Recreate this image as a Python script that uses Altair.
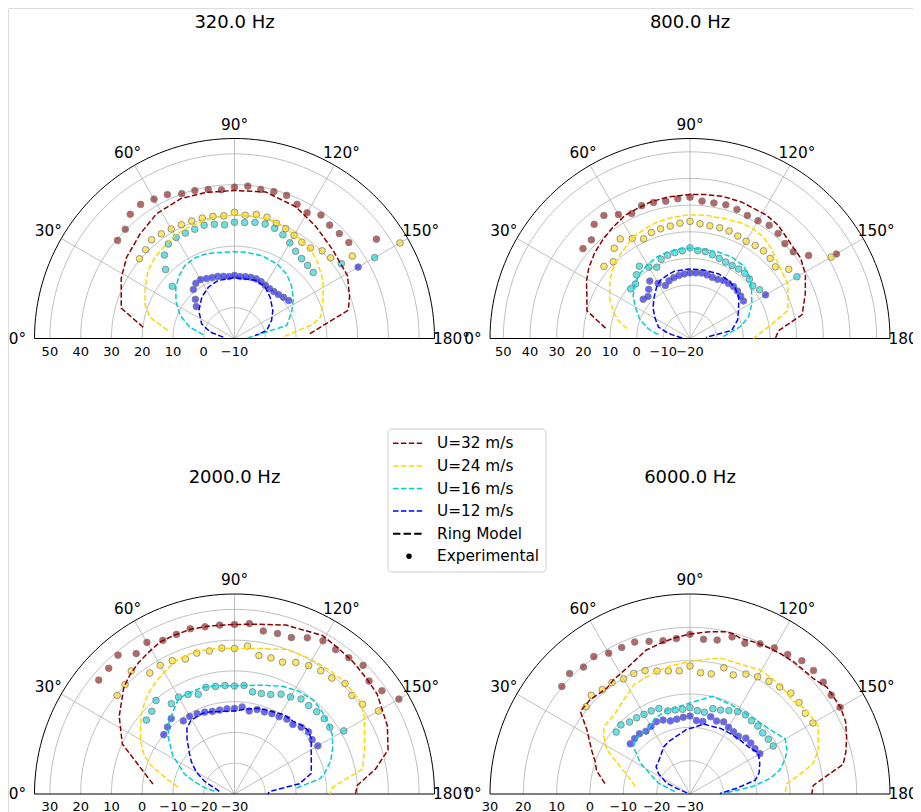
import altair as alt
import pandas as pd

# ---------------- panel layout (figure pixel space) ----------------
R_PX = 200.0
PANEL_TITLES = ["320.0 Hz", "800.0 Hz", "2000.0 Hz", "6000.0 Hz"]
PANEL_CX = [234.5, 690.0, 234.5, 690.0]
PANEL_CY = [338.5, 338.5, 794.0, 794.0]
PANEL_RMIN = [-10, -20, -30, -30]
PANEL_RMAX = [55, 55, 35, 30]
PANEL_RTICKS = [
    [-10, 0, 10, 20, 30, 40, 50],
    [-20, -10, 0, 10, 20, 30, 40, 50],
    [-30, -20, -10, 0, 10, 20, 30],
    [-30, -20, -10, 0, 10, 20, 30],
]
THETA_TICKS = [0, 30, 60, 90, 120, 150, 180]

SERIES = ["U=32 m/s", "U=24 m/s", "U=16 m/s", "U=12 m/s"]
COLORS = ["#8b0000", "#ffd700", "#00ced1", "#0000ff"]

# ---------------- experimental data (dB) ----------------
EXP_ANGLES = [40, 45, 50, 55, 60, 65, 70, 75, 80, 85, 90, 95, 100, 105, 110,
              115, 120, 125, 130, 135, 140, 145, 150]

EXP_320_U32 = [39.6, 40.2, 42.7, 43.2, 42.3, 41.6, 40.1, 39.8, 39.2, 38.5, 39.2, 39.7, 39.2, 39.4, 39.5, 38.1, 37.2, 39.0, 38.1, 38.2, 38.5, 46.3, None]
EXP_320_U24 = [30.3, 30.8, 31.9, 31.5, 31.1, 30.8, 30.6, 30.5, 30.3, 30.0, 31.0, 30.2, 30.9, 30.8, 29.8, 29.4, 28.7, 28.2, 28.4, 30.3, 30.8, 36.7, 52.1]
EXP_320_U16 = [16.4, 21.7, 25.4, 27.5, 27.9, 27.8, 27.8, 28.1, 27.7, 27.1, 27.8, 27.8, 28.3, 28.5, 28.1, 27.2, 25.9, 24.6, 23.9, 23.6, 23.4, 32.4, 42.6]
EXP_320_U12 = [6.2, 8.0, 10.8, 11.9, 12.1, 11.5, 11.1, 10.9, 10.5, 10.2, 10.5, 10.2, 10.4, 10.6, 10.6, 10.4, 10.0, 9.8, 9.9, 10.2, 10.8, 11.5, 36.4]

EXP_800_U32 = [32.4, 32.3, 35.9, 36.3, 33.7, 31.7, 33.0, 32.8, 32.3, 32.6, 33.0, 31.7, 31.6, 31.9, 31.5, 30.9, 31.0, 31.8, 31.4, 30.3, 30.6, 34.3, 43.4]
EXP_800_U24 = [22.1, 20.7, 24.2, 25.6, 23.3, 21.2, 22.3, 22.6, 22.8, 23.4, 23.9, 23.2, 22.9, 23.0, 22.9, 22.4, 22.1, 22.6, 22.9, 22.5, 21.8, 25.2, 41.1]
EXP_800_U16 = [9.0, 8.9, 11.2, 13.1, 10.9, 9.5, 11.6, 12.3, 12.7, 13.0, 14.0, 13.1, 13.1, 12.5, 12.0, 11.6, 11.6, 11.8, 11.9, 11.5, 10.7, 11.9, 26.3]
EXP_800_U12 = [2.9, 2.3, 4.1, 6.3, 3.9, 1.9, 3.0, 3.6, 4.0, 4.3, 4.6, 4.7, 4.9, 4.7, 4.4, 4.5, 5.1, 5.2, 5.4, 5.2, 4.8, 4.5, 12.7]

EXP_2000_U32 = [27.6, 27.8, 28.9, 25.7, 26.9, 25.1, 25.2, 25.6, 25.2, 25.1, 25.1, 25.6, 23.8, 24.0, 24.1, 26.0, 27.5, 27.3, 27.8, 29.1, 27.1, 28.5, 31.7]
EXP_2000_U24 = [19.8, 20.3, 22.2, 18.0, 18.3, 17.8, 16.7, 17.4, 17.2, 17.6, 17.3, 18.3, 15.7, 15.8, 15.6, 17.2, 18.2, 18.9, 19.2, 20.8, 19.8, 20.8, 24.0]
EXP_2000_U16 = [7.4, 8.0, 9.7, 5.8, 6.4, 5.7, 4.5, 5.9, 5.5, 5.4, 5.1, 5.4, 3.7, 3.8, 4.4, 5.8, 6.4, 7.7, 7.5, 7.8, 8.1, 7.8, 11.0]
EXP_2000_U12 = [0.0, 0.8, 2.0, -1.0, -0.9, -1.2, -1.7, -2.2, -2.3, -2.2, -2.2, -1.6, -2.6, -1.6, -1.6, -1.2, -1.0, -0.3, -0.5, 0.7, 1.4, 0.8, 1.3]

EXP_6000_U32 = [20.2, 21.1, 19.7, 20.3, 18.8, 18.5, 18.5, 17.4, 16.7, 16.8, 17.9, 16.6, 16.9, 18.8, 18.1, 19.7, 20.6, 21.1, 22.2, 22.4, 22.2, 21.7, 22.0]
EXP_6000_U24 = [10.7, 11.9, 10.9, 10.8, 9.9, 9.9, 9.4, 8.2, 7.5, 7.1, 8.4, 6.5, 6.6, 9.2, 8.0, 9.7, 10.6, 11.3, 11.9, 12.8, 12.7, 12.2, 12.6]
EXP_6000_U16 = [-1.1, -0.7, -1.8, -2.1, -2.4, -2.5, -2.7, -4.2, -4.4, -4.5, -4.1, -4.9, -5.1, -3.5, -3.2, -2.4, -1.5, -1.0, -1.3, -1.2, -1.5, -1.3, -1.2]
EXP_6000_U12 = [-6.6, -6.5, -6.4, -7.0, -6.6, -6.1, -6.4, -7.3, -7.2, -6.9, -6.6, -7.9, -7.9, -6.0, -6.7, -6.1, -6.9, -7.2, -7.4, -6.3, -6.2, -6.2, -5.8]

# ---------------- ring model (angle deg, dB) ----------------
MOD_320_U32_T = [7, 15, 28, 37, 48, 58, 69, 79, 90, 102, 115, 126, 138, 151, 160, 166, 177]
MOD_320_U32_R = [19.9, 28.1, 31.7, 33.9, 35.8, 37.8, 38.7, 38.4, 38.1, 38.7, 37.2, 35.0, 33.0, 32.0, 29.8, 28.1, 14.0]
MOD_320_U24_T = [7, 14, 21, 30, 38, 46, 53, 60, 68, 76, 82, 90, 97, 108, 117, 123, 131, 138, 147, 155, 166, 170, 178]
MOD_320_U24_R = [11.9, 18.3, 21.2, 23.5, 25.7, 27.0, 27.7, 28.7, 29.2, 29.5, 29.8, 30.2, 30.3, 30.4, 29.2, 28.8, 28.0, 26.5, 24.3, 21.8, 18.9, 15.5, 5.9]
MOD_320_U16_T = [7, 14, 23, 32, 41, 49, 56, 64, 72, 82, 90, 98, 109, 120, 129, 137, 146, 155, 166, 179]
MOD_320_U16_R = [0.2, 4.9, 9.2, 12.4, 15.3, 17.3, 18.7, 19.2, 19.0, 18.3, 18.2, 18.3, 18.3, 17.9, 16.9, 15.3, 13.1, 10.5, 7.5, -6.0]
MOD_320_U12_T = [7, 15, 24, 38, 52, 63, 74, 90, 111, 121, 131, 144, 154, 166, 172]
MOD_320_U12_R = [-6.3, -1.8, 1.7, 4.7, 7.2, 8.7, 9.6, 9.8, 10.2, 9.4, 7.7, 5.4, 3.4, 0.8, -3.3]

MOD_800_U32_T = [7, 15, 22, 29, 35, 42, 49, 55, 62, 68, 74, 81, 90, 96, 103, 111, 122, 128, 138, 144, 151, 159, 168, 175, 180]
MOD_800_U32_R = [11.9, 20.0, 21.7, 24.4, 26.3, 28.1, 29.5, 30.7, 32.2, 32.6, 33.3, 33.7, 34.0, 34.3, 34.7, 34.7, 34.4, 33.8, 31.7, 31.3, 29.5, 26.3, 23.0, 13.3, 12.0]
MOD_800_U24_T = [9, 14, 19, 27, 36, 43, 50, 56, 62, 68, 74, 82, 90, 98, 106, 114, 120, 126, 132, 138, 151, 164, 170, 180]
MOD_800_U24_R = [4.0, 7.7, 10.4, 13.8, 17.1, 19.3, 20.9, 22.2, 23.8, 24.5, 25.4, 25.9, 26.4, 26.6, 26.8, 27.4, 27.5, 26.9, 25.5, 23.7, 22.0, 18.2, 11.1, 3.8]
MOD_800_U16_T = [7, 13, 21, 30, 37, 45, 52, 59, 68, 75, 84, 90, 100, 108, 117, 126, 134, 142, 151, 160, 167, 178]
MOD_800_U16_R = [-8.0, -4.0, 0.2, 3.7, 6.7, 9.1, 10.7, 11.8, 13.0, 13.5, 13.8, 13.9, 13.8, 14.1, 14.3, 13.9, 12.2, 9.3, 6.5, 3.3, -0.8, -8.1]
MOD_800_U12_T = [4, 12, 15, 20, 31, 40, 49, 57, 63, 70, 77, 90, 101, 114, 123, 131, 140, 150, 159, 169, 176]
MOD_800_U12_R = [-17.0, -13.0, -10.9, -7.4, -4.6, -1.9, 0.5, 3.0, 4.5, 5.2, 5.9, 6.1, 6.2, 6.5, 6.1, 5.6, 3.9, 1.0, -0.9, -4.1, -14.0]

MOD_2000_U32_T = [7, 24, 34, 44, 49, 54, 59, 64, 69, 75, 82, 90, 97, 107, 119, 125, 132, 139, 145, 156, 164, 170, 176, 180]
MOD_2000_U32_R = [-3.3, 9.9, 15.2, 20.0, 21.6, 22.9, 23.9, 25.0, 25.2, 25.4, 25.2, 25.1, 25.6, 27.4, 28.9, 28.2, 27.7, 27.0, 26.6, 24.4, 21.9, 16.5, 10.0, 9.3]
MOD_2000_U24_T = [7, 12, 19, 23, 29, 35, 40, 45, 50, 55, 61, 66, 70, 76, 84, 90, 100, 110, 119, 128, 135, 143, 149, 160, 169, 176, 180]
MOD_2000_U24_R = [-11.5, -7.9, -1.3, 1.9, 4.8, 7.3, 9.6, 11.5, 13.2, 14.5, 16.0, 17.2, 17.7, 18.0, 17.7, 17.3, 18.0, 20.0, 20.4, 20.8, 21.1, 20.8, 19.2, 15.0, 12.4, 2.0, 0.9]
MOD_2000_U16_T = [8, 12, 17, 22, 32, 35, 41, 48, 59, 63, 73, 80, 90, 105, 114, 122, 130, 136, 142, 149, 155, 161, 167, 170, 175]
MOD_2000_U16_R = [-23.4, -20.0, -16.4, -12.4, -6.3, -4.9, -1.4, 1.8, 5.7, 6.0, 6.2, 5.7, 5.2, 6.6, 8.3, 9.4, 9.8, 9.2, 8.4, 7.1, 5.2, 3.1, 0.0, -1.9, -10.4]
MOD_2000_U12_T = [10, 23, 30, 37, 42, 45, 49, 54, 59, 64, 69, 74, 90, 98, 106, 115, 122, 129, 134, 139, 144, 151, 161, 165, 171, 176, 180]
MOD_2000_U12_R = [-25.0, -19.4, -15.6, -12.4, -10.3, -8.9, -6.5, -3.7, -2.3, -2.0, -1.8, -2.2, -3.0, -2.1, -1.0, -0.5, 0.4, 0.4, 1.2, 1.6, 0.8, -1.5, -3.6, -4.2, -8.6, -18.6, -19.2]

MOD_6000_U32_T = [7, 14, 19, 24, 32, 37, 43, 52, 56, 64, 73, 79, 84, 90, 96, 102, 105, 108, 113, 118, 123, 128, 132, 137, 142, 146, 150, 155, 160, 165, 169, 176, 180]
MOD_6000_U32_R = [-4.3, -1.1, 0.1, 2.3, 6.5, 11.2, 11.2, 10.4, 11.2, 12.4, 15.1, 16.1, 17.0, 18.0, 18.9, 19.8, 19.8, 19.1, 19.5, 19.8, 20.1, 20.4, 20.4, 20.7, 22.1, 22.0, 22.1, 21.5, 20.0, 18.4, 16.8, 7.1, 6.5]
MOD_6000_U24_T = [8, 17, 28, 34, 38, 47, 55, 63, 70, 76, 83, 90, 96, 103, 105, 113, 119, 124, 130, 138, 144, 152, 161, 166, 168, 174, 180]
MOD_6000_U24_R = [-13.4, -10.2, -1.7, 1.2, 2.8, 3.0, 4.6, 6.9, 7.5, 8.3, 9.0, 9.7, 10.6, 11.8, 11.7, 11.9, 12.7, 12.6, 12.4, 11.6, 13.1, 13.5, 10.7, 8.1, 5.7, -0.8, -1.5]
MOD_6000_U16_T = [9, 19, 32, 40, 45, 59, 65, 75, 90, 103, 115, 130, 143, 150, 156, 160, 165, 169, 173, 180]
MOD_6000_U16_R = [-25.4, -20.0, -12.4, -7.9, -6.9, -6.5, -5.0, -3.9, -2.7, 0.1, -0.5, -0.4, 1.2, 3.0, 1.9, 0.3, -2.1, -5.5, -10.9, -20.5]
MOD_6000_U12_T = [20, 23, 25, 33, 39, 46, 61, 68, 73, 87, 93, 101, 106, 115, 123, 133, 141, 149, 156, 163, 168, 173, 179]
MOD_6000_U12_R = [-29.0, -25.7, -22.3, -18.7, -16.9, -16.4, -13.8, -13.0, -12.6, -10.6, -10.0, -8.6, -8.7, -8.3, -8.2, -7.9, -7.5, -6.1, -7.1, -8.3, -10.0, -15.9, -21.0]

EXP = [
    [EXP_320_U32, EXP_320_U24, EXP_320_U16, EXP_320_U12],
    [EXP_800_U32, EXP_800_U24, EXP_800_U16, EXP_800_U12],
    [EXP_2000_U32, EXP_2000_U24, EXP_2000_U16, EXP_2000_U12],
    [EXP_6000_U32, EXP_6000_U24, EXP_6000_U16, EXP_6000_U12],
]
MOD = [
    [(MOD_320_U32_T, MOD_320_U32_R), (MOD_320_U24_T, MOD_320_U24_R), (MOD_320_U16_T, MOD_320_U16_R), (MOD_320_U12_T, MOD_320_U12_R)],
    [(MOD_800_U32_T, MOD_800_U32_R), (MOD_800_U24_T, MOD_800_U24_R), (MOD_800_U16_T, MOD_800_U16_R), (MOD_800_U12_T, MOD_800_U12_R)],
    [(MOD_2000_U32_T, MOD_2000_U32_R), (MOD_2000_U24_T, MOD_2000_U24_R), (MOD_2000_U16_T, MOD_2000_U16_R), (MOD_2000_U12_T, MOD_2000_U12_R)],
    [(MOD_6000_U32_T, MOD_6000_U32_R), (MOD_6000_U24_T, MOD_6000_U24_R), (MOD_6000_U16_T, MOD_6000_U16_R), (MOD_6000_U12_T, MOD_6000_U12_R)],
]

LEGEND_LABELS = SERIES + ["Ring Model", "Experimental"]
LEGEND_COLORS = COLORS + ["#000000", "#000000"]

FONT = "DejaVu Sans"
TICK_FS = 15.3
RLAB_FS = 13
TITLE_FS = 18
LEG_FS = 15.3


def panel_cols(p):
    return dict(panel=p, cx=PANEL_CX[p], cy=PANEL_CY[p],
                rmin=PANEL_RMIN[p], rmax=PANEL_RMAX[p])


# ---------------- build tables ----------------
exp_rows, mod_rows = [], []
for p in range(4):
    for s in range(4):
        for a, v in zip(EXP_ANGLES, EXP[p][s]):
            if v is not None:
                exp_rows.append(dict(series=SERIES[s], theta=a, r=v, **panel_cols(p)))
        tt, rr = MOD[p][s]
        for a, v in zip(tt, rr):
            mod_rows.append(dict(series=SERIES[s], key=f"{p}-{s}", theta=a, r=v, **panel_cols(p)))
exp_df = pd.DataFrame(exp_rows)
mod_df = pd.DataFrame(mod_rows)

grid_rows, spoke_rows, frame_rows, alab_rows, rlab_rows, title_rows = [], [], [], [], [], []
ARC_STEPS = list(range(0, 181, 2))
for p in range(4):
    rmin, rmax = PANEL_RMIN[p], PANEL_RMAX[p]
    for t in PANEL_RTICKS[p]:
        if rmin < t < rmax:
            for i, a in enumerate(ARC_STEPS):
                grid_rows.append(dict(key=f"{p}-{t}", o=i, theta=a, r=t, **panel_cols(p)))
        lab = str(t).replace("-", "\u2212")
        rlab_rows.append(dict(text=lab, theta=0, r=t, **panel_cols(p)))
    for a in THETA_TICKS[1:-1]:
        spoke_rows.append(dict(key=f"{p}-{a}", o=0, theta=a, r=rmin, **panel_cols(p)))
        spoke_rows.append(dict(key=f"{p}-{a}", o=1, theta=a, r=rmax, **panel_cols(p)))
    for i, a in enumerate(ARC_STEPS):
        frame_rows.append(dict(key=str(p), o=i, theta=a, r=rmax, **panel_cols(p)))
    frame_rows.append(dict(key=str(p), o=len(ARC_STEPS), theta=0, r=rmax, **panel_cols(p)))
    for a in THETA_TICKS:
        alab_rows.append(dict(text=f"{a}\u00b0", theta=a, **panel_cols(p)))
    title_rows.append(dict(text=PANEL_TITLES[p], **panel_cols(p)))

grid_df = pd.DataFrame(grid_rows)
spoke_df = pd.DataFrame(spoke_rows)
frame_df = pd.DataFrame(frame_rows)
alab_df = pd.DataFrame(alab_rows)
rlab_df = pd.DataFrame(rlab_rows)
title_df = pd.DataFrame(title_rows)

# legend layout
LEG_X0, LEG_X1, LEG_Y0, LEG_Y1 = 388, 546, 429, 572
LEG_ROW0, LEG_DY = 443.3, 22.6
leg_df = pd.DataFrame(dict(
    label=LEGEND_LABELS,
    y=[LEG_ROW0 + LEG_DY * i for i in range(len(LEGEND_LABELS))],
    x0=[393] * 6, x1=[423] * 6, xd=[409] * 6, xt=[437] * 6,
))
box_df = pd.DataFrame(dict(x0=[LEG_X0], x1=[LEG_X1], y0=[LEG_Y0], y1=[LEG_Y1]))

# ---------------- scales ----------------
W, H = 905, 804
XS = alt.Scale(domain=[8, 8 + W], nice=False, zero=False)
YS = alt.Scale(domain=[8, 8 + H], nice=False, zero=False, reverse=True)
X = lambda f: alt.X(f, type="quantitative", scale=XS, axis=None)
Y = lambda f: alt.Y(f, type="quantitative", scale=YS, axis=None)
color = alt.Color("series:N", scale=alt.Scale(domain=SERIES, range=COLORS), legend=None)


def polar(ch):
    return (ch.transform_calculate(rho=f"(datum.r - datum.rmin) / (datum.rmax - datum.rmin) * {R_PX}")
              .transform_calculate(px="datum.cx - datum.rho * cos(datum.theta * PI / 180)")
              .transform_calculate(py="datum.cy - datum.rho * sin(datum.theta * PI / 180)"))


grid = polar(alt.Chart(grid_df).mark_line(color="#b0b0b0", strokeWidth=0.8)).encode(
    x=X("px"), y=Y("py"), detail="key:N", order="o:Q")
spokes = polar(alt.Chart(spoke_df).mark_line(color="#b0b0b0", strokeWidth=0.8)).encode(
    x=X("px"), y=Y("py"), detail="key:N", order="o:Q")
frame = polar(alt.Chart(frame_df).mark_line(color="#000000", strokeWidth=1.0)).encode(
    x=X("px"), y=Y("py"), detail="key:N", order="o:Q")

points = polar(alt.Chart(exp_df).mark_circle(
    size=44, fillOpacity=0.6, stroke="#808080", strokeWidth=0.9, strokeOpacity=0.9)).encode(
    x=X("px"), y=Y("py"), color=color)

lines = polar(alt.Chart(mod_df).mark_line(strokeWidth=1.5, strokeDash=[5.5, 2.4])).encode(
    x=X("px"), y=Y("py"), color=color, detail="key:N", order="theta:Q")

alabels = (alt.Chart(alab_df)
           .transform_calculate(rho=f"{R_PX} + 14 + 3 * pow(abs(cos(datum.theta * PI / 180)), 8)")
           .transform_calculate(px="datum.cx - datum.rho * cos(datum.theta * PI / 180)")
           .transform_calculate(py="datum.cy - datum.rho * sin(datum.theta * PI / 180)")
           .mark_text(font=FONT, fontSize=TICK_FS, align="center", baseline="middle", color="black")
           .encode(x=X("px"), y=Y("py"), text="text:N"))

rlabels = polar(alt.Chart(rlab_df)).mark_text(
    font=FONT, fontSize=RLAB_FS, align="center", baseline="middle", dy=13, color="black").encode(
    x=X("px"), y=Y("py"), text="text:N")

titles = alt.Chart(title_df).mark_text(
    font=FONT, fontSize=TITLE_FS, align="center", baseline="middle", dy=-316, color="black").encode(
    x=X("cx"), y=Y("cy"), text="text:N")

box = alt.Chart(box_df).mark_rect(
    fill="white", fillOpacity=0.8, stroke="#cccccc", strokeWidth=1, cornerRadius=4).encode(
    x=X("x0"), x2="x1", y=Y("y0"), y2="y1")
leg_color = alt.Color("label:N", scale=alt.Scale(domain=LEGEND_LABELS, range=LEGEND_COLORS), legend=None)
leg_lines = alt.Chart(leg_df).transform_filter(
    alt.FieldOneOfPredicate(field="label", oneOf=SERIES)).mark_rule(
    strokeWidth=1.5, strokeDash=[5.5, 2.4]).encode(
    x=X("x0"), x2="x1", y=Y("y"), color=leg_color)
leg_ring = alt.Chart(leg_df).transform_filter(
    alt.datum.label == "Ring Model").mark_rule(
    strokeWidth=2, strokeDash=[7.4, 3.2], color="black").encode(
    x=X("x0"), x2="x1", y=Y("y"))
leg_dot = alt.Chart(leg_df).transform_filter(
    alt.datum.label == "Experimental").mark_circle(size=30, color="black", opacity=1).encode(
    x=X("xd"), y=Y("y"))
leg_text = alt.Chart(leg_df).mark_text(
    font=FONT, fontSize=LEG_FS, align="left", baseline="middle", color="black").encode(
    x=X("xt"), y=Y("y"), text="label:N")

chart = alt.layer(
    grid, spokes, frame, points, lines, alabels, rlabels, titles,
    box, leg_lines, leg_ring, leg_dot, leg_text
).properties(
    width=W, height=H, autosize=alt.AutoSizeParams(type="none"), padding=0
).configure_view(strokeWidth=0, stroke="transparent").configure(background="white")

chart.save("out.html", embed_options={"renderer": "svg", "actions": False})
